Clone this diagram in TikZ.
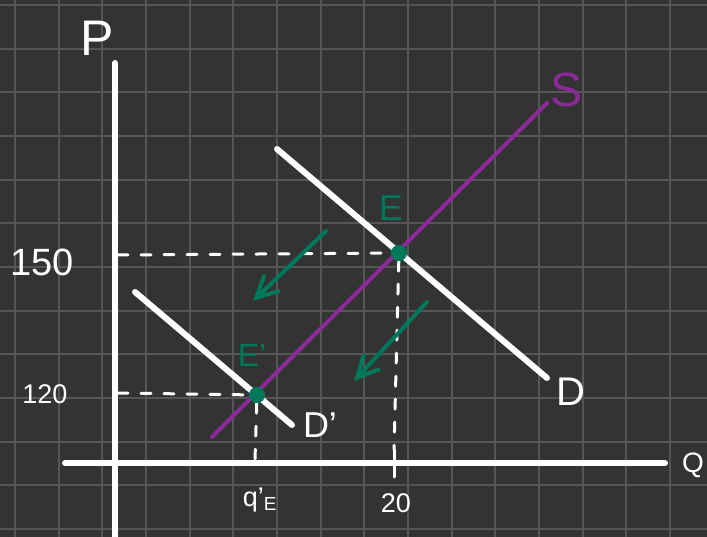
\documentclass[tikz,border=0pt]{standalone}
\usepackage{fontspec}
\setmainfont{Liberation Sans}
\usetikzlibrary{arrows.meta}
\definecolor{board}{HTML}{333333}
\definecolor{gridgray}{HTML}{565656}
\definecolor{supplyviolet}{HTML}{8B2A98}
\definecolor{shiftgreen}{HTML}{00785A}
\newcommand{\fsz}[1]{\fontsize{#1}{#1}\selectfont}

\begin{document}
\begin{tikzpicture}[x=1pt, y=-1pt,
  axisline/.style={white, line width=6pt, line cap=round},
  demand/.style={white, line width=6pt, line cap=round},
  supply/.style={supplyviolet, line width=4pt, line cap=round},
  guide/.style={white, line width=3pt, line cap=round, dash pattern=on 10pt off 13pt},
  shiftarrow/.style={shiftgreen, line width=4pt, line cap=round,
    -{Straight Barb[length=22pt, width=22pt, line width=4pt]}},
  eqpt/.style={circle, fill=shiftgreen, inner sep=0pt, minimum size=16pt},
  lbl/.style={text=white, inner sep=0pt}
]
\useasboundingbox (0,0) rectangle (707,537);
% board and grid
\fill[board] (0,0) rectangle (707,537);
\foreach \i in {0,...,15}
  \draw[gridgray, line width=2pt] ({15+43.66*\i},0) -- ({15+43.66*\i},537);
\foreach \j in {0,...,12}
  \draw[gridgray, line width=2pt] (0,{5+43.66*\j}) -- (707,{5+43.66*\j});

% axes
\coordinate (ptop) at (115,63);
\coordinate (pbot) at (115,545);
\coordinate (qleft) at (65,463);
\coordinate (qright) at (665,463);
\draw[axisline] (ptop) -- (pbot);
\draw[axisline] (qleft) -- (qright);
\node[lbl, font=\fsz{50}] (plbl) at (97,38) {P};
\node[lbl, font=\fsz{28}] (qlbl) at (693,465) {Q};

% equilibria
\node[eqpt] (E) at (399,253) {};
\node[eqpt] (E2) at (257,395) {};

% guides
\coordinate (p150) at (118,255);
\coordinate (p120) at (118,393);
\coordinate (q20) at (394,450);
\coordinate (qE) at (255,460);
\coordinate (tickup) at (394,450);
\coordinate (tickdn) at (394,477);
\draw[guide] (p150) -- (E);
\draw[guide] (E) -- (q20);
\draw[white, line width=3pt, line cap=round] (tickup) -- (tickdn);
\draw[guide] (p120) -- (E2);
\draw[guide] (E2) -- (qE);

% demand and supply
\coordinate (d1) at (277,149);
\coordinate (d2) at (547,378);
\coordinate (dd1) at (135,292);
\coordinate (dd2) at (292,425);
\coordinate (s1) at (212,437);
\coordinate (s2) at (547,103);
\draw[demand] (d1) -- (d2);
\draw[demand] (dd1) -- (dd2);
\draw[supply] (s1) -- (s2);
\node[eqpt] at (E) {};
\node[eqpt] at (E2) {};

% shift arrows
\coordinate (a1s) at (326,231);
\coordinate (a1e) at (253,301);
\coordinate (a2s) at (427,302);
\coordinate (a2e) at (354,381);
\draw[shiftarrow] (a1s) -- (a1e);
\draw[shiftarrow] (a2s) -- (a2e);

% labels
\node[lbl, font=\fsz{38}] (l150) at (42,262) {150};
\node[lbl, font=\fsz{27}] (l120) at (45,394) {120};
\node[lbl, font=\fsz{27}] (l20) at (396,503) {20};
\node[lbl, font=\fsz{27}] (lqe) at (260,500) {q'\textsubscript{E}};
\node[lbl, font=\fsz{40}] (ldem) at (571,392) {D};
\node[lbl, font=\fsz{36}] (ldem2) at (320,425) {D'};
\node[lbl, font=\fsz{48}, text=supplyviolet] (lsup) at (567,90) {S};
\node[lbl, font=\fsz{36}, text=shiftgreen] (lE) at (391,208) {E};
\node[lbl, font=\fsz{32}, text=shiftgreen] (lE2) at (252,355) {E'};
\end{tikzpicture}
\end{document}
